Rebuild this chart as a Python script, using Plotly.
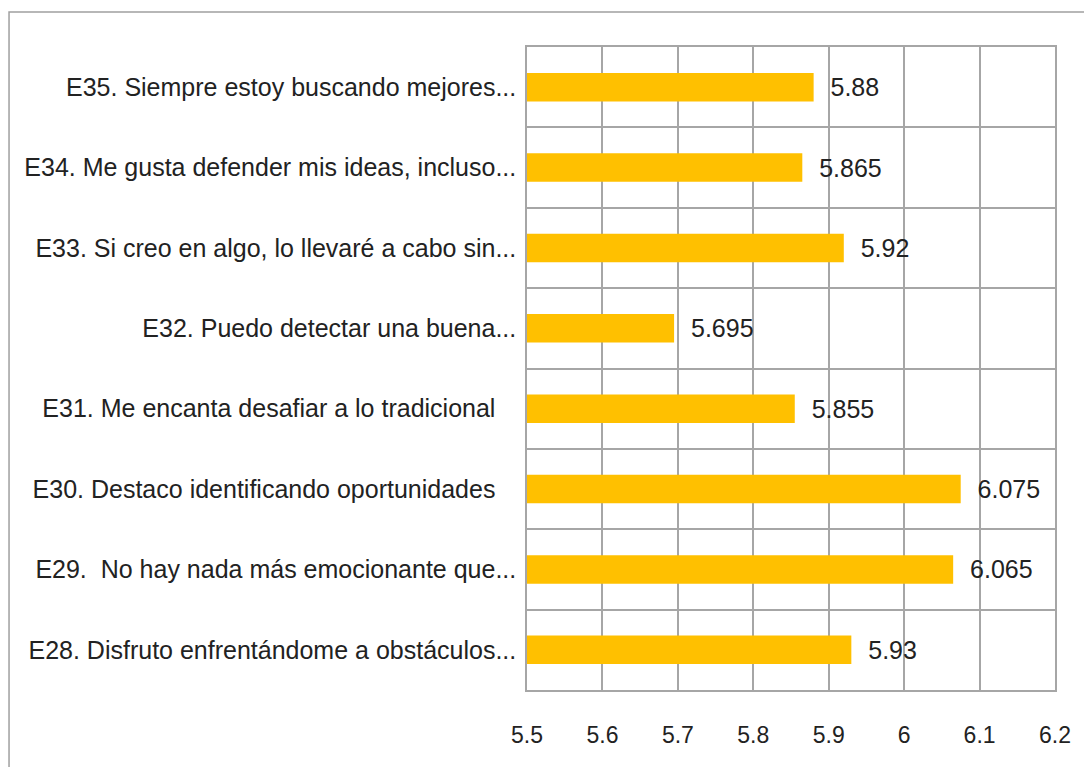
import plotly.graph_objects as go

categories = [
    "E28. Disfruto enfrentándome a obstáculos...",
    "E29.\u00a0 No hay nada más emocionante que...",
    "E30. Destaco identificando oportunidades\u00a0\u00a0\u00a0",
    "E31. Me encanta desafiar a lo tradicional\u00a0\u00a0\u00a0",
    "E32. Puedo detectar una buena...",
    "E33. Si creo en algo, lo llevaré a cabo sin...",
    "E34. Me gusta defender mis ideas, incluso...",
    "E35. Siempre estoy buscando mejores...",
]
values = [5.93, 6.065, 6.075, 5.855, 5.695, 5.92, 5.865, 5.88]
value_labels = ["5.93", "6.065", "6.075", "5.855", "5.695", "5.92", "5.865", "5.88"]
x_ticks = [5.5, 5.6, 5.7, 5.8, 5.9, 6.0, 6.1, 6.2]
x_tick_text = ["5.5", "5.6", "5.7", "5.8", "5.9", "6", "6.1", "6.2"]
AXIS_MIN = 5.5

FONT = "Liberation Sans, Arial, sans-serif"
TXT = "#222222"
GRID = "#A6A6A6"

fig = go.Figure(go.Bar(
    y=categories,
    x=[v - AXIS_MIN for v in values],
    base=AXIS_MIN,
    orientation="h",
    width=0.355,
    marker=dict(color="#FFC000", line=dict(width=0)),
    text=["\u00a0\u00a0" + t for t in value_labels],
    textposition="outside",
    textfont=dict(family=FONT, size=25, color=TXT),
    cliponaxis=False,
    hoverinfo="skip",
))

fig.update_layout(
    width=1084, height=759,
    margin=dict(l=519, r=37, t=39, b=77, autoexpand=False),
    paper_bgcolor="white", plot_bgcolor="white",
    showlegend=False,
    font=dict(family=FONT, size=25, color=TXT),
)
fig.update_xaxes(
    range=[5.5, 6.2], tickvals=x_ticks, ticktext=x_tick_text,
    showgrid=True, gridcolor=GRID, gridwidth=1.5,
    showline=True, linecolor=GRID, linewidth=1.5, mirror=True,
    zeroline=False, ticks="", ticklabelstandoff=24, automargin=False,
    tickfont=dict(family=FONT, size=23, color=TXT),
)
fig.update_yaxes(
    categoryorder="array", categoryarray=categories,
    showgrid=True, gridcolor=GRID, gridwidth=1.5, tickson="boundaries",
    showline=True, linecolor=GRID, linewidth=1.5, mirror=True,
    ticks="", ticklabelstandoff=4, automargin=False,
    tickfont=dict(family=FONT, size=25, color=TXT),
)
fig.add_shape(type="rect", xref="paper", yref="paper",
              x0=-0.981, y0=-0.4, x1=1.3, y1=1.0545,
              line=dict(color="#A0A0A0", width=1.5), layer="below")

fig.write_html("out.html")
